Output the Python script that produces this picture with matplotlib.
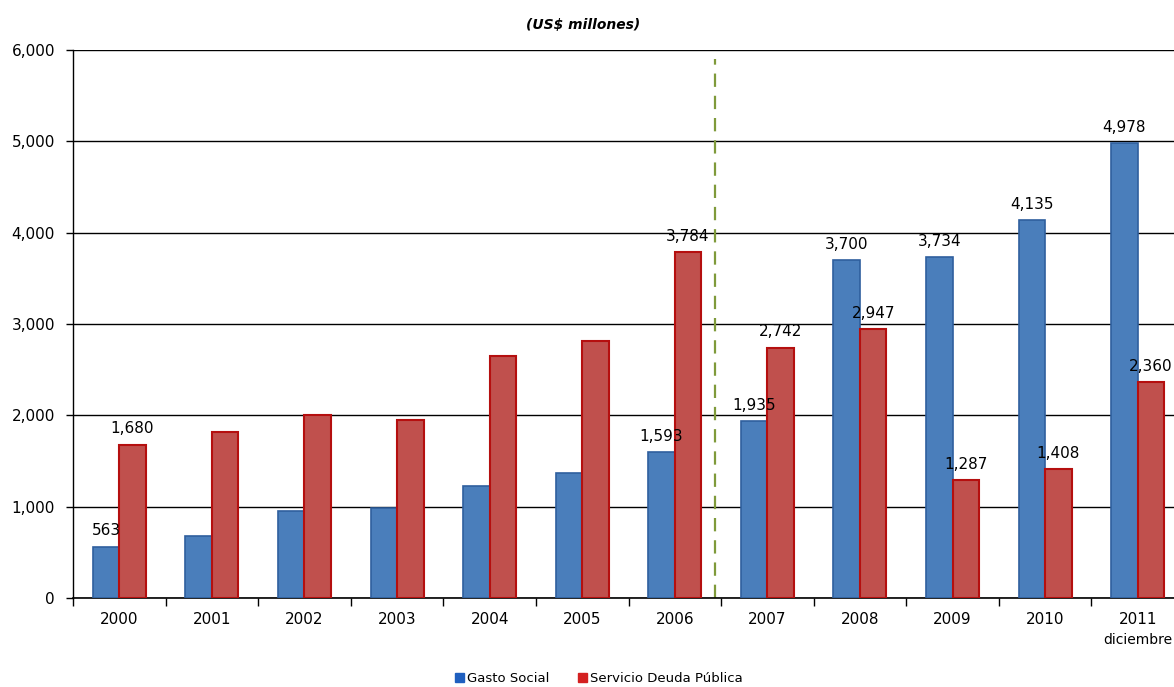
import matplotlib.pyplot as plt
import numpy as np
from matplotlib.patches import Patch

years = ['2000', '2001', '2002', '2003', '2004', '2005', '2006',
         '2007', '2008', '2009', '2010', '2011']
gasto_social = [563, 679, 955, 990, 1227, 1369, 1593, 1935, 3700, 3734, 4135, 4978]
deuda_publica = [1680, 1818, 2004, 1950, 2650, 2815, 3784, 2742, 2947, 1287, 1408, 2360]
# solo algunos años llevan etiqueta de valor
etiquetados = [0, 6, 7, 8, 9, 10, 11]

fig = plt.figure(figsize=(11.74, 6.87), dpi=100)
ax = fig.add_axes([0.0622, 0.1296, 0.9463, 0.7977])

x = np.arange(len(years))
w = 0.286
azul, borde_azul = '#4a7ebb', '#2f5f9e'
rojo, borde_rojo = '#c0504d', '#b50f0f'

ax.bar(x - w / 2, gasto_social, w, color=azul, edgecolor=borde_azul, linewidth=1.2, zorder=3)
ax.bar(x + w / 2, deuda_publica, w, color=rojo, edgecolor=borde_rojo, linewidth=1.5, zorder=3)

for i in etiquetados:
    ax.text(x[i] - w / 2, gasto_social[i] + 90, f'{gasto_social[i]:,}',
            ha='center', va='bottom', fontsize=11, zorder=4)
    ax.text(x[i] + w / 2, deuda_publica[i] + 90, f'{deuda_publica[i]:,}',
            ha='center', va='bottom', fontsize=11, zorder=4)

# separación entre periodos
ax.plot([6.43, 6.43], [0, 5900], color='#7f9a3a', linestyle=(0, (6, 4)), linewidth=1.6, zorder=2)

ax.set_xlim(-0.5, 11.5)
ax.set_ylim(0, 6000)
ax.set_yticks(range(0, 6001, 1000))
ax.set_yticklabels([f'{v:,}' for v in range(0, 6001, 1000)], fontsize=11)
ax.yaxis.grid(True, color='black', linewidth=1.0, zorder=0)
ax.set_axisbelow(True)

ax.set_xticks(x)
ax.set_xticklabels(years, fontsize=11)
ax.tick_params(axis='x', length=0, pad=10)
ax.set_xticks(np.arange(-0.5, 12, 1), minor=True)
ax.tick_params(axis='x', which='minor', length=6, direction='out', width=1)
ax.tick_params(axis='y', length=5, direction='out', width=1, pad=8)
ax.text(x[-1], -460, 'diciembre', ha='center', va='center', fontsize=10)

for s in ['top', 'right']:
    ax.spines[s].set_visible(False)
ax.spines['left'].set_linewidth(1.0)
ax.spines['bottom'].set_linewidth(1.2)

fig.text(0.497, 0.963, '(US$ millones)', ha='center', va='center',
         fontsize=10, fontweight='bold', fontstyle='italic')

handles = [Patch(facecolor='#1f5fbf', edgecolor='#1f5fbf'),
           Patch(facecolor='#d42020', edgecolor='#d42020')]
fig.legend(handles, ['Gasto Social', 'Servicio Deuda Pública'], loc='center',
           bbox_to_anchor=(0.51, 0.012), ncol=2, frameon=False, fontsize=9.5,
           handlelength=0.7, handleheight=0.7, handletextpad=0.2, columnspacing=2.2)

fig.savefig('out.png', dpi=100)
